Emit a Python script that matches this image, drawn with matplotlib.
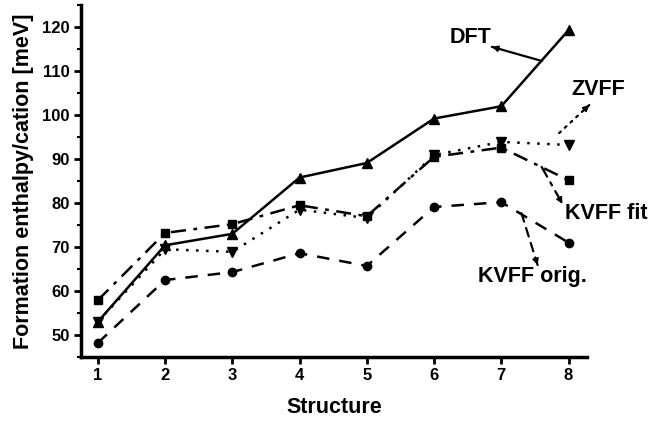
import numpy as np
import matplotlib.pyplot as plt
from matplotlib.ticker import MultipleLocator

plt.rcParams['font.family'] = ['Liberation Sans', 'DejaVu Sans']
plt.rcParams['font.weight'] = 'bold'

structure = [1, 2, 3, 4, 5, 6, 7, 8]
dft = [53.0, 70.4, 73.0, 85.8, 89.1, 99.2, 102.0, 119.3]
kvff_fit = [57.9, 73.2, 75.2, 79.5, 77.0, 90.5, 92.6, 85.2]
zvff = [53.0, 69.5, 68.9, 78.5, 76.6, 90.9, 93.9, 93.2]
kvff_orig = [48.2, 62.5, 64.3, 68.6, 65.7, 79.1, 80.2, 71.0]

fig = plt.figure(figsize=(6.5, 4.22), dpi=100)
ax = fig.add_axes([0.1246, 0.154, 0.778, 0.834])

ax.plot(structure, dft, color='black', lw=1.8, ls='-', marker='^', ms=7)
ax.plot(structure, kvff_fit, color='black', lw=1.8, ls=(0, (6, 3, 1.5, 3)), marker='s', ms=6)
ax.plot(structure, zvff, color='black', lw=1.8, ls=(0, (1, 3)), marker='v', ms=7)
ax.plot(structure, kvff_orig, color='black', lw=1.8, ls=(0, (5, 4)), marker='o', ms=6)


def label_arrow(head, tail, ls):
    # styled shaft, then a small solid head at the text end
    ax.annotate('', xy=head, xytext=tail, annotation_clip=False,
                arrowprops=dict(arrowstyle='-', color='black', lw=1.6, ls=ls,
                                shrinkA=0, shrinkB=0))
    near = (head[0] + 0.15 * (tail[0] - head[0]), head[1] + 0.15 * (tail[1] - head[1]))
    ax.annotate('', xy=head, xytext=near, annotation_clip=False,
                arrowprops=dict(arrowstyle='-|>', color='black', lw=1.2, mutation_scale=9,
                                shrinkA=0, shrinkB=0))


ax.text(6.54, 117.7, 'DFT', fontsize=15.5, fontweight='bold', ha='center', va='center')
label_arrow((6.86, 115.5), (7.6, 112.3), '-')

ax.text(8.44, 105.9, 'ZVFF', fontsize=15.5, fontweight='bold', ha='center', va='center',
        clip_on=False)
label_arrow((8.31, 102.3), (7.86, 95.9), (0, (1, 2.5)))

ax.text(8.56, 77.7, 'KVFF fit', fontsize=15.5, fontweight='bold', ha='center', va='center',
        clip_on=False)
label_arrow((7.91, 79.8), (7.6, 88.2), (0, (5, 3, 1.5, 3)))

ax.text(7.46, 63.2, 'KVFF orig.', fontsize=15.5, fontweight='bold', ha='center', va='center')
label_arrow((7.54, 65.9), (7.3, 77.7), (0, (4, 3)))

ax.set_xlim(0.75, 8.27)
ax.set_ylim(45, 125)
ax.set_xticks(structure)
ax.yaxis.set_minor_locator(MultipleLocator(5))
ax.set_yticks(np.arange(50, 121, 10))

for side in ['top', 'right']:
    ax.spines[side].set_visible(False)
for side in ['left', 'bottom']:
    ax.spines[side].set_linewidth(2.5)

ax.tick_params(axis='both', which='major', direction='out', length=5, width=2, labelsize=12,
               pad=3)
ax.tick_params(axis='y', which='minor', direction='out', length=3, width=1.5)
for lab in ax.get_xticklabels() + ax.get_yticklabels():
    lab.set_fontweight('bold')

ax.set_xlabel('Structure', fontsize=15.5, fontweight='bold', labelpad=10)
ax.set_ylabel('Formation enthalpy/cation [meV]', fontsize=15.5, fontweight='bold', labelpad=6)

fig.savefig('out.png', dpi=100)
